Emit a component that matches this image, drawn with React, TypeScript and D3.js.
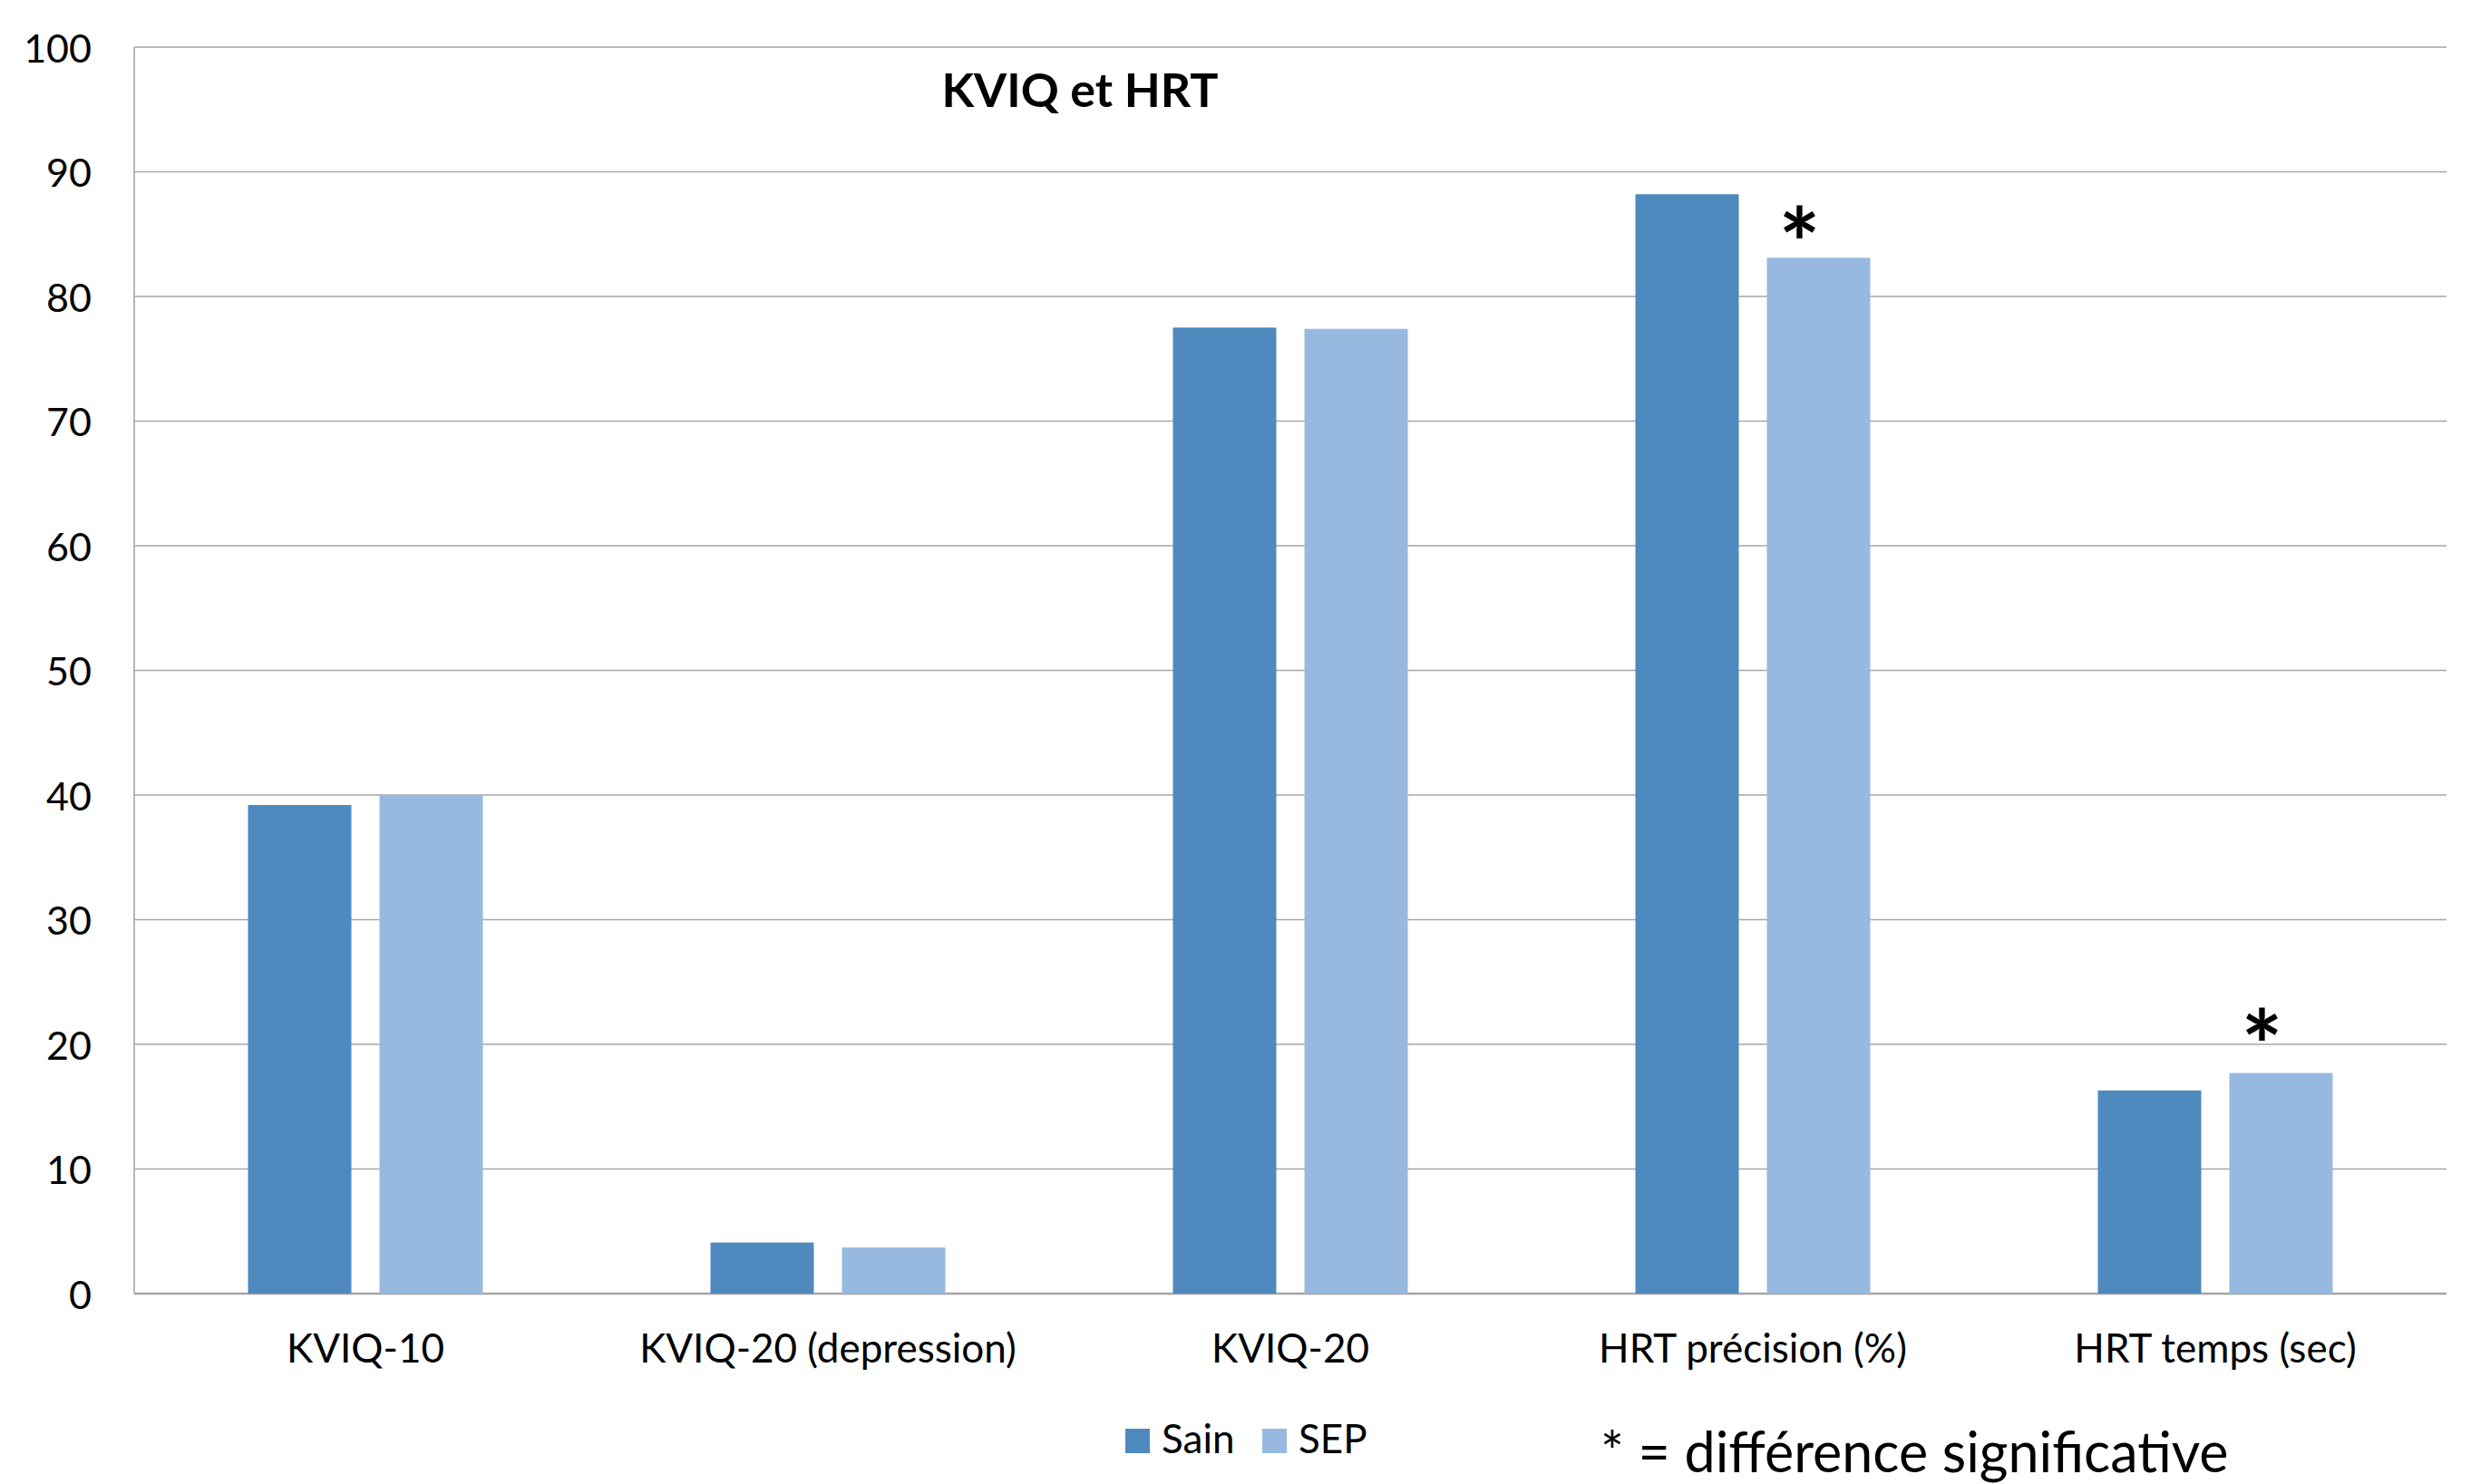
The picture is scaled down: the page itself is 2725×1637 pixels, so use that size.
import React from "react";
import * as d3 from "d3";

const categories = ["KVIQ-10", "KVIQ-20 (depression)", "KVIQ-20", "HRT précision (%)", "HRT temps (sec)"];
const seriesNames = ["Sain", "SEP"];
const sainValues = [39.2, 4.1, 77.5, 88.2, 16.3];
const sepValues = [40.0, 3.7, 77.4, 83.1, 17.7];
const yTicks = [0, 10, 20, 30, 40, 50, 60, 70, 80, 90, 100];
const significantCategories = ["HRT précision (%)", "HRT temps (sec)"];
const significanceMarkLevels = [85.9, 21.5];
const titleText = "KVIQ et HRT";
const footnoteText = "* = différence significative";

const colors: Record<string, string> = { Sain: "#4F8ABE", SEP: "#98B9DF" };
const FONT = "Lato, 'Open Sans', sans-serif";

export default function App() {
  const W = 2725;
  const H = 1637;
  const left = 148;
  const right = 2698;
  const top = 52;
  const bottom = 1427;

  const x0 = d3.scaleBand<string>().domain(categories).range([left, right]).paddingInner(0).paddingOuter(0);
  const groupPad = 125.5;
  const x1 = d3
    .scaleBand<string>()
    .domain(seriesNames)
    .range([groupPad, x0.bandwidth() - groupPad])
    .paddingInner(31 / 145)
    .paddingOuter(0);
  const y = d3.scaleLinear().domain([0, 100]).range([bottom, top]);

  const rows = categories.map((c, i) => ({ cat: c, Sain: sainValues[i], SEP: sepValues[i] }));

  return (
    <svg
      width={W}
      height={H}
      viewBox={`0 0 ${W} ${H}`}
      style={{ position: "absolute", left: 0, top: 0, background: "#fff", display: "block" }}
      fontFamily={FONT}
    >
      <rect x={0} y={0} width={W} height={H} fill="#fff" />
      {yTicks.map((t) => (
        <line
          key={"g" + t}
          x1={left}
          x2={right}
          y1={y(t)}
          y2={y(t)}
          stroke="#A6A6A6"
          strokeWidth={t === 0 ? 2.5 : 1.6}
        />
      ))}
      <line x1={left} x2={left} y1={top} y2={bottom} stroke="#A6A6A6" strokeWidth={1.6} />
      {yTicks.map((t) => (
        <text
          key={"t" + t}
          x={101}
          y={y(t)}
          textAnchor="end"
          dominantBaseline="central"
          fontSize={43}
          fill="#000"
        >
          {t}
        </text>
      ))}
      {rows.map((r) => (
        <g key={r.cat} transform={`translate(${x0(r.cat)},0)`}>
          {seriesNames.map((s) => {
            const v = (r as any)[s] as number;
            return (
              <rect
                key={s}
                x={x1(s)}
                y={y(v)}
                width={x1.bandwidth()}
                height={y(0) - y(v)}
                fill={colors[s]}
              />
            );
          })}
        </g>
      ))}
      {significantCategories.map((c, i) => (
        <text
          key={"s" + c}
          x={(x0(c) as number) + (x1("SEP") as number) + x1.bandwidth() / 2 - 21}
          y={y(significanceMarkLevels[i]) + 62}
          textAnchor="middle"
          fontSize={108}
          fontWeight="bold"
          fill="#000"
        >
          *
        </text>
      ))}
      {categories.map((c) => (
        <text
          key={"c" + c}
          x={(x0(c) as number) + x0.bandwidth() / 2}
          y={1503}
          textAnchor="middle"
          fontSize={44}
          fill="#000"
        >
          {c}
        </text>
      ))}
      <text x={1191} y={118} textAnchor="middle" fontSize={52} fontWeight="bold" fill="#000">
        {titleText}
      </text>
      {seriesNames.map((s, i) => {
        const lx = [1241, 1392][i];
        return (
          <g key={"l" + s}>
            <rect x={lx} y={1576} width={27} height={27} fill={colors[s]} />
            <text x={lx + 40} y={1603} fontSize={44} fill="#000">
              {s}
            </text>
          </g>
        );
      })}
      <text x={1765} y={1624} fontSize={61} fill="#000">
        {footnoteText}
      </text>
    </svg>
  );
}
